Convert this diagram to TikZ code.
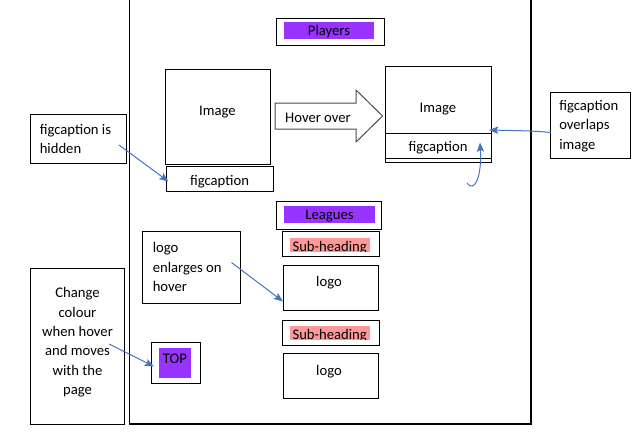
\documentclass[tikz,border=0pt]{standalone}
\usepackage{fontspec}
\setmainfont{Carlito}
\usetikzlibrary{fit,arrows.meta,calc}
\definecolor{purp}{RGB}{153,51,255}
\definecolor{pinkf}{RGB}{255,153,153}
\definecolor{arrblue}{RGB}{68,114,196}
\begin{document}
\begin{tikzpicture}[x=0.75pt,y=-0.75pt,
  font=\fontsize{11}{14.5}\selectfont,
  box/.style={draw, line width=0.75pt, inner sep=0pt},
  fillbox/.style={fill=#1, inner sep=0pt},
  conn/.style={draw=arrblue, line width=0.75pt, -{Stealth[length=7pt,width=5.5pt,inset=1.5pt]}},
  txt/.style={inner sep=0pt, yshift=-1.1pt},
  ltxt/.style={inner sep=0pt, anchor=west, align=left, yshift=-1.1pt},
]
\useasboundingbox (0,0) rectangle (643,443);

% main frame
\coordinate (ftl) at (129.5,-2);
\coordinate (fbl) at (129.5,424);
\coordinate (fbr) at (531,424);
\coordinate (ftr) at (531,-2);
\draw[line width=0.8pt] (ftl) -- (fbl) -- (fbr) -- (ftr);

% Players
\node[box, fit={(276,18) (384,45)}] (playersbox) {};
\node[fillbox=purp, fit={(284,22) (374,39)}] (playersfill) {};
\node[txt] (players) at (329,30.5) {Players};

% left image + caption
\node[box, fit={(165,69) (270,164)}] (limg) {};
\node[txt] (limgtxt) at (217.5,111) {Image};
\node[box, fit={(166,166.5) (273,191)}] (lcap) {};
\node[txt] (lcaptxt) at (219.5,180.5) {figcaption};

% hover arrow
\draw[line width=0.75pt, draw=black!70] (275,103) -- (356,103) -- (356,90) -- (382.5,116)
  -- (356,142) -- (356,129) -- (275,129) -- cycle;
\node[txt] (hover) at (318,116.5) {Hover over};

% right image
\node[box, fit={(385,66) (491,162)}] (rimg) {};
\draw[line width=0.75pt] (385,133) -- (491,133);
\draw[line width=0.75pt] (385,158.5) -- (491,158.5);
\node[txt] (rimgtxt) at (438,108) {Image};
\node[txt] (rcaptxt) at (438,146) {figcaption};

% overlaps note
\node[box, fit={(550,92) (630,158)}] (overlaps) {};
\node[ltxt] (overlapstxt) at (559,124.5) {figcaption\\overlaps\\image};

% hidden note
\node[box, fit={(30.5,114) (126.5,163)}] (hidden) {};
\node[ltxt] (hiddentxt) at (39.5,137.5) {figcaption is\\hidden};

% Leagues
\node[box, fit={(276,201) (381,229)}] (leaguesbox) {};
\node[fillbox=purp, fit={(284,206) (375,223)}] (leaguesfill) {};
\node[txt] (leagues) at (329.5,214.5) {Leagues};

% Sub-heading 1
\node[box, fit={(282.5,231) (379,256)}] (sub1box) {};
\node[fillbox=pinkf, fit={(289.5,237.5) (370,251.5)}] (sub1) {};
\begin{scope}
\clip (sub1.south west) rectangle (sub1.north east);
\node[inner sep=0pt, anchor=base] (sub1txt) at (329.7,251.5) {Sub-heading};
\end{scope}

% logo 1
\node[box, fit={(283,265) (378,310)}] (logo1) {};
\node[txt] (logo1txt) at (329,281.5) {logo};

% Sub-heading 2
\node[box, fit={(282.5,320.5) (379,345.5)}] (sub2box) {};
\node[fillbox=pinkf, fit={(289.5,325.5) (370,339.5)}] (sub2) {};
\begin{scope}
\clip (sub2.south west) rectangle (sub2.north east);
\node[inner sep=0pt, anchor=base] (sub2txt) at (329.7,339.5) {Sub-heading};
\end{scope}

% logo 2
\node[box, fit={(283,353.5) (378,398)}] (logo2) {};
\node[txt] (logo2txt) at (329,370.5) {logo};

% enlarges note
\node[box, fit={(142.5,231) (240,303.5)}] (enl) {};
\node[ltxt] (enltxt) at (152.5,265.5) {logo\\enlarges on\\hover};

% change colour note
\node[box, fit={(30.5,268.5) (124.5,424)}] (chg) {};
\node[txt, align=center] (chgtxt) at (77.5,341) {Change\\colour\\when hover\\and moves\\with the\\page};

% TOP
\node[box, fit={(151.5,342.5) (200.5,383.5)}] (topbox) {};
\node[fillbox=purp, fit={(159,347.5) (191,378)}] (topfill) {};
\node[txt] (toptxt) at (175,357.5) {TOP};

% connectors
\coordinate (h1) at (119,145);
\coordinate (h2) at (168.5,181.5);
\draw[conn] (h1) -- (h2);

\coordinate (e1) at (231.5,262.5);
\coordinate (e2) at (283,301.5);
\draw[conn] (e1) -- (e2);

\coordinate (g1) at (109,344);
\coordinate (g2) at (154,366.5);
\draw[conn] (g1) -- (g2);

\coordinate (o1) at (551,132.5);
\coordinate (o2) at (489,130);
\draw[conn] (o1) .. controls (534,131) .. (o2);

\coordinate (c1) at (467,183);
\coordinate (c2) at (480,142.5);
\draw[conn] (c1) .. controls (474,193) and (482,178) .. (c2);
\end{tikzpicture}
\end{document}
